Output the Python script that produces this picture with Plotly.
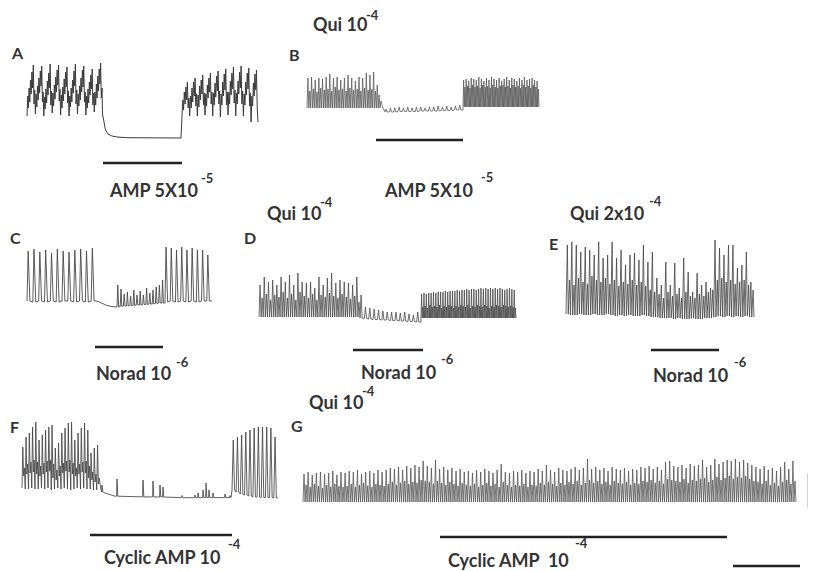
import plotly.graph_objects as go

W, H = 816, 571
OFF = 8  # page body margin of the written html

# ------------------------------------------------------------------ data
# Panel A (time units, potential units; trough level = 0)
A_wave1 = [22,42,30,50,36,58,44,66,50,73,34,48,
           24,44,31,52,38,60,45,67,52,72,36,46,
           22,41,29,49,35,57,43,65,50,74,33,47,
           25,45,32,53,39,61,46,68,53,73,37,49,
           23,43,30,51,37,59,44,66,51,71,35,47,
           22,42,31,50,36,58,45,67,52,74,34,48,
           24,44,32,52,38,60,46,68,51,72,36,46,
           23,42,30,49,35,56,43,63,49,69,33,45,
           26,46,33,54,40,62,47,69,54,75,40,50]
A_fall_t = [75.5, 77, 78.5, 81, 85, 90, 100, 154]
A_fall_v = [24, 14, 8, 4, 2, 1, 0.3, 0]
A_wave2 = [20,38,28,46,34,51,38,56,30,40,
           22,42,30,50,36,56,42,60,32,44,
           22,43,31,52,38,58,44,63,33,45,
           23,44,32,53,40,60,46,65,34,46,
           22,45,33,55,41,62,47,67,34,47,
           21,44,33,56,42,64,48,69,33,46,
           23,46,34,57,43,65,49,71,35,48,
           22,45,34,57,44,66,50,72,34,47,
           22,44,33,56,43,65,49,70,32,45,
           16,42,32,55,42,64,48,68,30,16]

# Panel B
B1_tall = [35,36,33,35,34,36,39,35,36,33,35,38,35,32,36,35,40,38,41,28]
B1_mid = [22,24,21,25,23,24,22,26,23,24,22,25,23,24,22,25,23,24,22,18]
B_fall_t = [74, 75.5, 77]
B_fall_v = [12, 6, 2]
B2_peaks = [4,5,5,6,5,6,5,6,6,5,6,6,7,6,7,6,7,8]
B2_base = [1,1,1,1.5,1.5,1.5,1.5,1.5,2,2,2,2,2,2.5,2.5,2.5,3,3]
B3_tall = [33,34,32,35,34,33,36,34,32,35,33,36,34,33,35,32,34,36,33,35,34,32,35,33,36,33,34,35,33,32]
B3_mid = [26,27,25,28,26,27,25,28,26,27,25,28,26,25,27,28,26,27,25,28,26,27,25,28,26,27,25,28,26,24]

# Panel C
C1_peaks = [56,58,55,57,54,58,56,55,57,58,56,59]
C1_base = [6,5,6,5,6,5,6,6,5,6,5,6]
C_fall_t = [72, 76, 80, 85, 89]
C_fall_v = [5, 3, 1.5, 0.5, 0]
C2_peaks = [22,18,13,15,11,17,12,16,12,19,14,17,20,22,27]
C2_base = [0,0.5,1,1,1.5,1.5,2,2,2.5,2.5,3,3,3.5,4,4]
C3_peaks = [60,59,57,60,57,59,57,57,52]
C3_base = [5,6,5,6,5,6,5,6,6]

# Panel D
D1_tall = [37,45,40,42,37,45,40,47,37,49,40,39,40,34,45,37,44,49,39,42,40,39,37,45]
D1_mid = [24,28,22,27,25,30,24,28,22,30,26,24,28,22,27,25,29,26,24,28,25,23,26,20]
D2_peaks = [27,15,14,13,12,11,10,10,10,9,10,8,7,10]
D2_base = [4,3.5,3,2.5,2.5,2,2,1.5,1.5,1,1,0.5,0.5,0]
D3_tall = [28,29,28,29,29,30,29,30,30,30,31,30,31,31,31,32,31,32,32,33,
           32,33,33,32,33,34,33,34,33,34,33,34,33,34,33,32,33,34,33,32]
D3_mid = [15,16,14,17,15,16,15,17,14,16,15,17,16,14,16,15,17,16,15,17,
          14,16,15,17,16,15,17,16,14,16,15,17,16,15,17,16,15,16,15,14]

# Panel E
E_tall = [75,78,75,68,73,70,65,78,62,65, 78,62,70,55,65,67,60,75,58,68,
          42,35,58,35,57,32,62,48,28,47, 35,38,32,80,72,65,75,75,52,55, 68,38]
E_mid = [40,35,42,38,36,44,40,38,42,36, 40,34,38,36,40,35,38,34,30,28,
         26,22,28,24,26,22,28,24,22,26, 24,28,30,40,42,38,40,36,38,40, 35,30]
E_base = [6,5,5,6,5,5,6,5,5,6, 5,4,5,4,5,4,4,5,4,3,
          3,2,2,2,1,2,1,1,2,1, 1,2,2,3,4,3,4,3,4,3, 4,3]

# Panel F
F1_tall = [51,61,65,71,76,58,63,68,71,73,50,55,65,70,75,76,58,65,70,75,68,45,50,53]
F1_mid = [30,34,36,38,36,32,35,37,38,34,28,32,35,37,38,35,30,34,36,37,32,26,24,20]
F1_base = [10,9,9,10,9,9,10,9,10,8,9,10,9,10,9,8,9,10,9,10,9,9,8,8]
F1_midbase = [22,24,25,26,24,22,24,26,27,20,18,22,25,27,26,24,22,24,26,25,20,18,16,14]
F_base_t = [79, 83, 88, 93, 110, 150, 170, 200, 209]
F_base_v = [8, 5, 3, 1.8, 1.2, 1, 0.3, 0.3, 0.5]
F_ev_t = [80, 95, 121, 131, 138, 141, 160, 173, 176, 181, 184, 187, 191, 203, 208]
F_ev_p = [13, 19, 18, 17, 13, 11, 2.5, 3, 5, 8, 15, 8, 5, 4, 2.5]
F_ev_b = [6, 1.8, 1.1, 1.1, 1, 1, 0.3, 0.3, 0.3, 0.4, 0.4, 0.4, 0.4, 0.4, 0.5]
F3_peaks = [58,61,63,66,68,70,71,71,71,70,61]
F3_base = [8,6,4,3,2,1,1,0.5,0.5,0.5,0]

# Panel G
G_tall = [29,31,28,30,31,29,30,32,28,31, 30,32,31,33,29,31,32,30,33,31,
          33,35,34,36,33,37,35,38,36,42, 37,35,43,34,36,33,35,32,34,31,
          32,30,33,31,34,32,30,33,39,31, 30,32,31,33,30,32,31,34,32,38,
          33,31,35,33,32,34,36,33,35,44, 34,36,33,35,32,36,34,33,35,32,
          34,33,36,35,37,34,36,33,41,42, 37,36,38,35,39,37,38,43,36,38,
          44,39,41,43,42,44,41,43,40,38, 36,34,37,33,35,32,36,41,34,42]
G_mid = [18,16,19,17,15,18,16,19,17,16, 17,19,16,18,20,17,16,19,18,17,
         19,21,18,20,22,19,21,20,23,22, 21,19,22,20,18,21,19,17,20,18,
         17,19,16,18,20,17,19,16,21,18, 16,18,17,19,16,18,17,20,18,21,
         19,17,20,18,21,19,22,18,20,23, 20,22,19,21,18,22,20,19,21,18,
         20,19,22,21,23,20,22,19,24,23, 22,21,24,20,23,22,24,25,21,23,
         26,23,25,27,24,26,25,27,24,22, 21,19,22,18,20,17,21,23,19,22]
G_base = 1

# drug application periods (panel time units), panels A..G
drug_start = [76, 69, 68, 94, 85, 68, 137]
drug_end = [155, 156, 136, 164, 153, 210, 424]
# calibration
scale_time = 67
scale_amp = 35

# ------------------------------------------------------------------ helpers
def samples(t0, t1, vals):
    n = len(vals)
    return [t0 + i * (t1 - t0) / (n - 1) for i in range(n)], list(vals)

def pts(ts, vs):
    return list(ts), list(vs)

def alt(a, b):
    out = []
    for u, v in zip(a, b):
        out += [u, v]
    return out

def spikes(t0, t1, peaks, base, r=0.5, f=1.0):
    n = len(peaks)
    dt = (t1 - t0) / n
    bl = base if isinstance(base, list) else [base] * n
    xs, ys = [], []
    for i in range(n):
        xs += [t0 + i * dt, t0 + (i + r) * dt]
        ys += [bl[i], peaks[i]]
        if f < 1:
            xs.append(t0 + (i + f) * dt)
            ys.append(bl[i])
    xs.append(t1)
    ys.append(bl[-1])
    return xs, ys

def events(bt, bv, et, ep, eb):
    p = list(zip(bt, bv))
    for t, pk, b in zip(et, ep, eb):
        p += [(t - 0.4, b), (t, pk), (t + 0.8, b)]
    p.sort()
    return [a for a, _ in p], [b for _, b in p]

def join(*parts):
    xs, ys = [], []
    for x, y in parts:
        xs += x
        ys += y
    return xs, ys

traces = {
    'A': join(samples(0, 75, A_wave1), pts(A_fall_t, A_fall_v), samples(155, 231, A_wave2)),
    'B': join(spikes(0, 73, alt(B1_tall, B1_mid), 5), pts(B_fall_t, B_fall_v),
              spikes(78, 156, B2_peaks, B2_base, r=0.25, f=0.5),
              spikes(156, 232, alt(B3_tall, B3_mid), 6)),
    'C': join(spikes(0, 70, C1_peaks, C1_base, r=0.2, f=0.5), pts(C_fall_t, C_fall_v),
              spikes(90, 138, C2_peaks, C2_base, r=0.25, f=0.5),
              spikes(138, 185, C3_peaks, C3_base, r=0.2, f=0.5)),
    'D': join(spikes(0, 101, alt(D1_tall, D1_mid), 5),
              spikes(101, 162, D2_peaks, D2_base, r=0.25, f=0.5),
              spikes(162, 257, alt(D3_tall, D3_mid), 4)),
    'E': join(spikes(0, 188, alt(E_tall, E_mid), alt(E_base, E_base), r=0.6)),
    'F': join(spikes(0, 78, alt(F1_tall, F1_mid), alt(F1_base, F1_midbase)),
              events(F_base_t, F_base_v, F_ev_t, F_ev_p, F_ev_b),
              spikes(210, 256, F3_peaks, F3_base, r=0.3, f=0.6)),
    'G': join(spikes(0, 493, alt(G_tall, G_mid), G_base)),
}

# ------------------------------------------------------------------ layout (pixel placement)
# origin pixel of (t=0, v=0), axis ranges, drug-bar level, line colour
panels = {
    'A': dict(o=(27, 138), xr=(-3, 234), yr=(-30, 78), bar=-25, col='#3a3a3a', w=1.0),
    'B': dict(o=(307, 113), xr=(-3, 235), yr=(-32, 45), bar=-27, col='#5a5a5a', w=0.8),
    'C': dict(o=(27, 307), xr=(-3, 188), yr=(-45, 64), bar=-40, col='#4a4a4a', w=0.9),
    'D': dict(o=(259, 322), xr=(-3, 260), yr=(-33, 55), bar=-28, col='#4a4a4a', w=0.8),
    'E': dict(o=(566, 320), xr=(-3, 191), yr=(-35, 84), bar=-30, col='#444444', w=0.8),
    'F': dict(o=(22, 498), xr=(-3, 259), yr=(-42, 82), bar=-37, col='#444444', w=0.85),
    'G': dict(o=(303, 503), xr=(-3, 510), yr=(-68, 46), bar=-34, col='#555555', w=0.8),
}

fig = go.Figure()
layout = dict(width=W, height=H, margin=dict(l=0, r=0, t=0, b=0),
              paper_bgcolor='white', plot_bgcolor='white', showlegend=False)

for i, key in enumerate('ABCDEFG'):
    p = panels[key]
    ox, oy = p['o'][0] - OFF, p['o'][1] - OFF
    xd = [max(0, (ox + p['xr'][0]) / W), min(1, (ox + p['xr'][1]) / W)]
    yd = [max(0, 1 - (oy - p['yr'][0]) / H), min(1, 1 - (oy - p['yr'][1]) / H)]
    sfx = '' if i == 0 else str(i + 1)
    layout['xaxis' + sfx] = dict(domain=xd, range=list(p['xr']), visible=False, fixedrange=True,
                                 anchor='y' + sfx)
    layout['yaxis' + sfx] = dict(domain=yd, range=list(p['yr']), visible=False, fixedrange=True,
                                 anchor='x' + sfx)
    xs, ys = traces[key]
    fig.add_trace(go.Scatter(x=xs, y=ys, mode='lines', xaxis='x' + sfx, yaxis='y' + sfx,
                             line=dict(color=p['col'], width=p['w']), hoverinfo='skip'))
    fig.add_trace(go.Scatter(x=[drug_start[i], drug_end[i]], y=[p['bar'], p['bar']], mode='lines',
                             xaxis='x' + sfx, yaxis='y' + sfx,
                             line=dict(color='#222222', width=2.6), hoverinfo='skip'))
    if key == 'G':
        fig.add_trace(go.Scatter(x=[430, 430 + scale_time], y=[-63, -63], mode='lines',
                                 xaxis='x7', yaxis='y7', line=dict(color='#222222', width=2.4),
                                 hoverinfo='skip'))
        fig.add_trace(go.Scatter(x=[506, 506], y=[-5, -5 + scale_amp], mode='lines',
                                 xaxis='x7', yaxis='y7', line=dict(color='#222222', width=2.4),
                                 hoverinfo='skip'))

FONT = 'Lato'
TXT = '#333333'
NB = '\u00a0'
annots = []

def txt(s, x, y, size, anchor='left'):
    annots.append(dict(text=s, x=(x - OFF) / W, y=1 - (y - OFF) / H, xref='paper', yref='paper',
                       xanchor=anchor, yanchor='middle', showarrow=False, borderpad=0,
                       font=dict(family=FONT, size=size, color=TXT)))

# panel letters
for s, x, y in [('A', 10, 53), ('B', 288, 54), ('C', 9, 237), ('D', 243, 237),
                ('E', 548, 243), ('F', 9, 426), ('G', 290, 425)]:
    txt('<b>%s</b>' % s, x, y, 16)

# labels: (text, size, left x, centre y, exponent, exp left x, exp centre y)
labels = [
    ('AMP 5X10', 18, 108, 190, '-5', 200, 178),
    ('AMP 5X10', 18, 383, 190, '-5', 480, 177),
    ('Qui 10', 18, 312, 24, '-4', 365, 15),
    ('Norad 10', 18, 95, 373, '-6', 175, 362),
    ('Qui 10', 18, 266, 213, '-4', 319, 202),
    ('Norad' + NB + '10', 18, 360, 372, '-6', 440, 359),
    ('Qui' + NB + '2x10', 18, 569, 213, '-4', 648, 201),
    ('Norad 10', 18, 652, 375, '-6', 733, 362),
    ('Cyclic AMP 10', 18, 103, 557, '-4', 227, 544),
    ('Qui 10', 18, 308, 402, '-4', 361, 391),
    ('Cyclic AMP' + NB + NB + '10', 18, 447, 560, '-4', 574, 543),
]
for s, sz, x, y, e, ex, ey in labels:
    txt('<b>%s</b>' % s, x, y, sz)
    txt('<b>%s</b>' % e, ex, ey, 13)

layout['annotations'] = annots
fig.update_layout(**layout)
fig.write_html('out.html')
